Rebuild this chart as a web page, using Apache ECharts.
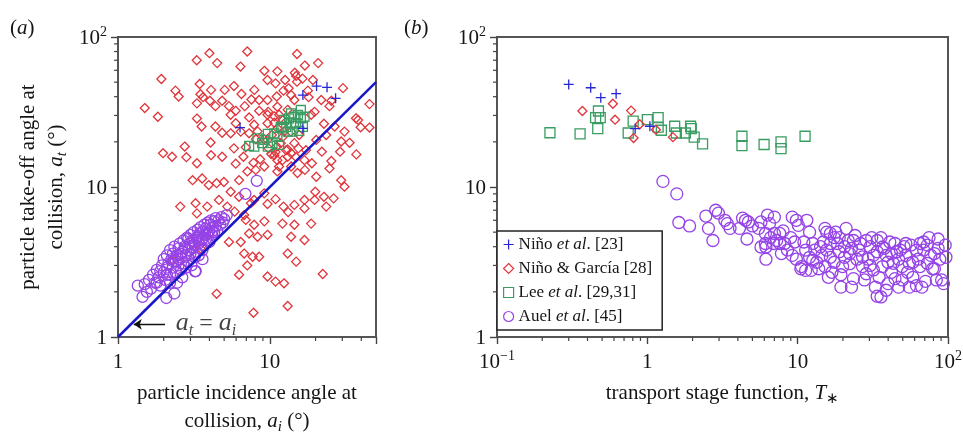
<!DOCTYPE html>
<html>
<head>
<meta charset="utf-8">
<script src="https://cdn.jsdelivr.net/npm/echarts@6.0.0/dist/echarts.min.js"></script>
<style>
  html, body { margin: 0; padding: 0; background: #ffffff; }
  #chart { width: 963px; height: 436px; }
</style>
</head>
<body>
<div id="chart"></div>
<script>
// ---- Panel (a): take-off angle vs incidence angle, both in degrees ----
const aNinoGarcia = [
  [4.0,78],[7.1,80],[3.3,70],[4.5,67],[6.4,63.5],[15.1,77],[9.2,59.5],[11.2,59],[17.0,64.5],[20.8,67],
  [1.93,52.5],[2.39,43.9],[2.51,40.1],[3.45,48.6],[4.1,44.4],[3.49,41.5],[3.63,39.7],[5.8,47.1],[5.04,44.4],[6.5,41.7],
  [7.9,44.4],[9.65,51.7],[10.9,49.1],[12.6,51.7],[14.6,57.8],[14.9,55],[15.1,50.4],[16.4,52.8],[19.2,51.7],[12.3,43.9],
  [11.1,40.1],[13.3,45.5],[13.8,41],[9.65,38],[1.5,33.6],[1.83,29.4],[3.31,36.1],[4.03,37.6],[4.38,34.6],[4.85,37.6],
  [5.38,34.6],[5.96,32.2],[6.83,34.6],[7.56,38.3],[8.5,38],[8.5,32.2],[9.75,31.7],[11.2,34.3],[13.1,32.7],[14.5,38],
  [17.8,43.9],[18.0,39.7],[21.8,38],[25.4,37.6],[30.3,45.6],[45.3,35.7],[36.9,28.7],[38.1,28],[39.6,25],[45.3,24.9],
  [24.7,34.6],[19.7,31.7],[3.31,28.6],[3.55,25.3],[4.38,25.3],[5.52,30.3],[5.96,26.6],[6.43,23.4],[7.3,29.1],[7.88,26],
  [7.3,22.8],[8.3,23.5],[9.65,30.3],[9.65,26.6],[10.7,26.8],[10.3,22.2],[12.1,21.5],[13.8,23.4],[15.6,22.2],[18.7,30.3],
  [22.7,26.4],[26.7,25.3],[31.0,23.4],[2.75,18.6],[4.07,19.8],[4.85,23],[5.52,22.8],[5.8,18.1],[6.94,18.4],[8.1,20.8],
  [9.15,20.8],[9.8,18.1],[11.1,18.6],[13.1,17.8],[15.4,18.1],[17.3,17.6],[20.2,20.6],[23.5,22.2],[29.5,20.1],[33.5,19.7],
  [1.98,16.8],[2.27,15.9],[2.82,15.8],[3.31,14.4],[4.1,16.3],[4.85,15.9],[5.96,14.3],[6.7,15.9],[7.8,14.5],[8.63,15.3],
  [10.2,16.6],[11.2,15.1],[13.1,15.9],[14.9,15.8],[16.9,15.1],[18.9,14.4],[22.0,17.2],[25.4,14.9],[29.0,17.2],[37.1,16.5],
  [3.1,11.1],[3.58,11.4],[3.96,10.3],[4.46,10.6],[4.98,10.8],[6.27,11.1],[7.11,12.7],[8.07,13],[9.18,13.7],[11.2,12.7],
  [13.8,13.7],[15.2,12.4],[17.0,13],[20.2,11.7],[24.7,13.3],[29.5,11.1],[4.62,8.2],[5.52,9.3],[6.27,8.6],[7.88,8.2],
  [9.18,9.07],[9.65,7.7],[10.9,8.3],[12.3,7.4],[13.2,6.8],[14.5,7.6],[16.9,8.2],[19.9,9.3],[22.7,8.6],[26.3,8.4],
  [31.0,10.05],[2.57,7.4],[3.24,7.8],[3.87,7.4],[5.24,7.4],[5.86,6.85],[6.77,6.5],[7.5,7.8],[16.9,7.2],[19.7,8.2],[23.5,7.4],
  [10.7,29.6],[11.5,30.3],[12.1,28],[12.8,27.3],[11.2,24.6],[12.4,23.4],[11.8,19.6],[12.8,17.6],[10.7,16.3],[12.1,15.1],
  [11.5,13.7],[9.65,20.6],[14.5,19.6],[13.8,16.8],[10.9,17.1],
  [3.31,6.67],[6.94,6.03],[7.88,5.6],[9.2,5.9],[12.1,5.7],[14.5,5.6],[18.7,5.7],[5.38,4.3],[6.43,4.3],[7.3,4.9],
  [8.3,4.66],[9.65,4.8],[13.8,4.66],[16.9,4.43],[6.77,3.6],[7.7,3.43],[8.5,3.43],[7.1,3.0],[9.65,2.53],[10.9,2.34],
  [12.4,2.28],[14.9,3.18],[13.1,3.6],[6.27,2.6],[22.3,2.63],[4.46,1.94],[13.1,1.61],[7.8,1.45],[3.08,4.2],[2.27,3.26],[3.49,3.9]
];
const aAuel = [
  [1.35,2.2],[1.45,1.85],[1.5,2.25],[1.6,2.4],[1.65,2.1],[1.7,2.6],[1.75,2.3],[1.8,2.8],[1.85,2.5],[1.9,2.2],
  [1.95,3.0],[2.0,2.7],[2.0,3.3],[2.05,2.4],[2.1,2.9],[2.1,3.5],[2.15,3.1],[2.2,2.6],[2.2,3.8],[2.25,3.3],
  [2.3,2.9],[2.3,3.6],[2.35,1.95],[2.35,4.0],[2.4,3.2],[2.4,2.7],[2.45,3.5],[2.5,3.9],[2.5,3.0],[2.55,4.2],
  [2.6,3.4],[2.6,2.8],[2.65,3.7],[2.7,4.4],[2.7,3.1],[2.75,4.0],[2.8,3.5],[2.8,2.9],[2.85,4.6],[2.9,3.8],
  [2.9,3.2],[2.95,4.2],[3.0,4.8],[3.0,3.6],[3.05,3.0],[3.1,4.4],[3.1,3.9],[3.15,5.0],[3.2,3.4],[3.2,4.1],
  [3.25,2.75],[3.3,4.6],[3.3,3.7],[3.35,5.2],[3.4,4.2],[3.4,3.5],[3.45,4.9],[3.5,3.9],[3.5,5.4],[3.55,4.4],
  [3.6,3.8],[3.6,5.0],[3.65,4.6],[3.7,5.6],[3.7,4.1],[3.75,4.8],[3.8,5.3],[3.85,4.4],[3.9,5.8],[3.9,4.9],
  [4.0,5.1],[4.0,4.3],[4.05,5.6],[4.1,6.0],[4.15,4.8],[4.2,5.4],[4.3,5.9],[4.3,5.0],[4.4,6.2],[4.4,5.5],
  [4.5,5.1],[4.6,6.0],[4.7,5.6],[4.8,6.3],[4.9,5.8],[5.0,6.1],[5.2,6.5],[2.2,2.3],[1.55,2.0],[1.9,2.75],
  [2.45,2.3],[2.65,2.5],[3.6,3.3],[6.9,9.0],[8.2,11.0],[3.0,4.2],[2.6,3.6],[2.3,3.2],[2.1,2.6],[1.8,2.3],
  [3.8,4.5],[4.2,5.1],[3.4,4.7],[2.9,4.5],[2.5,3.3],[2.75,3.9],[2.08,1.82],[3.22,2.74]
];
const aLee = [
  [7.3,18.8],[8.3,21.1],[9.2,20.6],[9.7,22.6],[10.4,19.6],[11.2,21.6],[12.1,24.6],[12.8,25.2],[13.8,26.6],[14.5,29.4],
  [15.3,30.2],[16.0,28.7],[16.5,25.2],[13.1,23.4],[14.1,23.4],[11.8,25.2],[10.7,22.8],[11.5,19.1],[12.4,28.0],[14.9,26.6],
  [15.6,23.7],[16.9,29.4],[13.4,28.7],[9.7,18.6],[8.9,19.6],[7.9,18.6],[16.0,32.6],[13.8,31.0]
];
const aNino = [[6.36,24.9],[16.5,41.0],[20.3,47.1],[23.8,46.2],[27.1,39.0],[16.5,24.6]];
const equalityLine = [[1, 1], [50, 50]];

// ---- Panel (b): take-off angle vs transport stage function ----
const bNinoGarcia = [[0.37,32.1],[0.59,35.9],[0.61,28.1],[0.78,32.3],[0.89,26.2],[0.81,21.2],[1.14,24.1],[1.48,21.5]];
const bNino = [[0.30,48.3],[0.42,45.9],[0.49,39.4],[0.62,41.9],[0.83,24.5],[1.04,25.4]];
const bLee = [
  [0.225,23.0],[0.357,22.6],[0.468,24.5],[0.453,29.0],[0.473,32.1],[0.486,29.0],[0.746,22.9],[0.805,27.5],[1.0,28.1],
  [1.18,29.0],[1.18,25.1],[1.24,23.9],[1.52,25.4],[1.56,22.9],[1.79,22.9],[1.94,25.4],[1.96,24.5],[2.05,21.5],[2.33,19.4],
  [4.26,21.8],[4.26,18.9],[5.98,19.2],[7.75,20.0],[7.75,18.0],[11.2,21.8]
];
const bAuel = [
  [1.27,10.9],[1.57,9.0],
  [1.62,5.8],[1.91,5.5],[2.45,6.4],[2.85,7.0],[2.97,6.7],[2.55,5.3],[2.73,4.4],[3.28,6.0],[3.4,5.7],[3.55,5.3],
  [4.1,5.3],[4.3,6.2],[4.5,6.0],[4.7,5.85],[4.6,4.5],[5.0,5.5],[5.5,5.3],[5.7,5.85],[6.3,6.5],[7.0,6.3],
  [6.5,5.7],[6.1,4.9],[6.1,4.2],[6.15,3.3],[6.6,4.6],[7.0,4.9],[7.6,4.9],[8.0,5.1],[8.2,4.2],[8.55,3.8],
  [9.0,4.6],[9.2,6.3],[9.8,6.0],[10.1,5.55],[9.55,4.3],[9.8,3.3],[10.5,2.85],[11.0,4.3],[11.3,2.78],[11.5,6.0],
  [12.0,5.0],[12.6,4.2],[13.0,3.8],[13.4,3.15],[13.8,2.85],[14.2,4.0],[14.8,4.3],[15.2,5.3],[15.6,3.8],[16.5,4.9],
  [16.5,3.4],[16.9,2.7],[17.5,3.15],[17.9,5.0],[18.4,4.2],[18.9,3.7],[19.4,2.6],[19.9,2.95],[21.0,5.3],[21.7,4.4],
  [22.2,3.6],[22.8,3.9],[23.5,2.45],[24.1,4.75],[25.6,3.8],[26.2,4.2],[27.0,2.95],[27.8,2.4],[28.6,4.4],[29.4,3.3],
  [30.3,4.0],[31.1,4.6],[31.9,2.8],[32.9,2.15],[33.8,3.7],[34.8,2.5],[35.8,4.6],[36.7,2.95],[37.7,3.9],[38.8,3.5],
  [39.9,2.27],[41.0,4.3],[42.1,2.7],[43.3,3.1],[44.4,2.45],[45.7,3.7],[46.9,2.15],[48.2,3.8],[49.6,2.95],[51.0,4.0],
  [52.4,3.5],[53.8,2.7],[55.3,2.15],[56.8,4.1],[58.4,3.15],[61.7,2.2],[63.4,3.3],[65.2,4.2],[68.9,3.8],[70.8,2.35],
  [72.8,3.1],[74.8,4.6],[76.9,3.5],[79.0,2.85],[81.2,3.6],[83.6,2.4],[85.9,4.5],[88.2,3.3],[90.7,2.4],[93.3,2.27],
  [95.8,4.1],[96.9,3.4],[35.8,1.85],[33.8,1.87],[38.8,2.05],[19.4,2.15],[22.8,2.15],[16.0,2.5],[12.3,2.78],
  [5.7,3.98],[6.15,3.98],[7.25,4.4],[7.6,4.2],[6.9,4.2],[7.8,3.6],[9.2,3.5],[10.6,2.95],[11.3,3.8],[12.0,3.4],
  [12.6,3.24],[14.5,3.5],[15.2,2.95],[15.6,5.0],[16.5,4.2],[17.5,4.6],[18.9,4.6],[20.5,4.0],[20.5,3.4],[22.2,3.08],
  [23.5,4.4],[24.8,3.3],[27.0,3.42],[28.6,2.64],[30.3,3.0],[31.9,3.5],[33.8,4.4],[36.7,3.98],[39.9,3.15],[42.1,3.6],
  [44.4,4.2],[46.9,3.3],[49.6,2.4],[52.4,4.2],[55.3,3.1],[58.4,2.5],[61.7,3.8],[65.2,2.95],[67.0,2.15],[72.8,4.1],
  [81.2,2.85],[85.9,3.9],[68.9,4.3]
];

// ---- Axis ticks ----
const aXMajor = [1, 10];
const aXMinor = [2, 3, 4, 5, 6, 7, 8, 9, 20, 30, 40];
const angleMajor = [1, 10, 100];
const angleMinor = [2, 3, 4, 5, 6, 7, 8, 9, 20, 30, 40, 50, 60, 70, 80, 90];
const bXMajor = [0.1, 1, 10, 100];
const bXMinor = [0.2, 0.3, 0.4, 0.5, 0.6, 0.7, 0.8, 0.9, 2, 3, 4, 5, 6, 7, 8, 9, 20, 30, 40, 50, 60, 70, 80, 90];

const NAMES = {
  nino: 'Niño et al. [23]',
  garcia: 'Niño & García [28]',
  lee: 'Lee et al. [29,31]',
  auel: 'Auel et al. [45]'
};
const legendRich = {};
legendRich[NAMES.nino] = '{n|Niño }{i|et al}{n|. [23]}';
legendRich[NAMES.garcia] = '{n|Niño & García [28]}';
legendRich[NAMES.lee] = '{n|Lee }{i|et al}{n|. [29,31]}';
legendRich[NAMES.auel] = '{n|Auel }{i|et al}{n|. [45]}';

const SERIF = '"Liberation Serif", "Times New Roman", serif';
const INK = '#151515';
const FRAME = '#555555';
const TICK = '#444444';
const BLUE = '#2626d4';
const RED = '#e0353b';
const GREEN = '#3a9d62';
const PURPLE = '#9543e6';
const LINE_BLUE = '#1818c8';
const HOLLOW = 'rgba(0,0,0,0)';
const CROSS = 'path://M0,5L10,5M5,0L5,10';

function txt(size, extra) {
  return Object.assign({ fontFamily: SERIF, fontSize: size, color: INK, fill: INK }, extra || {});
}

const tickRich = {
  b: txt(21, { lineHeight: 24, verticalAlign: 'bottom' }),
  p: txt(14, { lineHeight: 14, verticalAlign: 'top' })
};
const nameRich = {
  n: txt(21, { lineHeight: 28 }),
  i: txt(21, { lineHeight: 28, fontStyle: 'italic' }),
  s: txt(15, { lineHeight: 15, fontStyle: 'italic', verticalAlign: 'bottom' }),
  r: txt(15, { lineHeight: 15, verticalAlign: 'bottom' })
};

function powLabel(v) {
  const e = Math.round(Math.log10(v));
  if (e === 0) return '{b|1}';
  if (e === 1) return '{b|10}';
  return '{b|10}{p|' + (e < 0 ? '\u2212' + (-e) : e) + '}';
}

function mainAxis(grid, pos, min, max, majors, name, nameGap, rotate, margin) {
  return {
    type: 'log', logBase: 10, gridIndex: grid, position: pos, min: min, max: max,
    axisLine: { show: true, onZero: false, lineStyle: { color: FRAME, width: 2 } },
    axisTick: { show: true, inside: false, length: 7, lineStyle: { color: TICK, width: 1.4 } },
    minorTick: { show: false },
    axisLabel: {
      show: true, customValues: majors, formatter: powLabel, margin: margin,
      fontFamily: SERIF, fontSize: 21, color: INK, rich: tickRich,
      hideOverlap: false, showMinLabel: true, showMaxLabel: true
    },
    splitLine: { show: false },
    name: name, nameLocation: 'middle', nameGap: nameGap, nameRotate: rotate,
    nameMoveOverlap: false,
    nameTextStyle: { fontFamily: SERIF, fontSize: 21, color: INK, lineHeight: 28, rich: nameRich }
  };
}

function hollow(name, data, symbol, size, color, idx, z) {
  return {
    name: name, type: 'scatter', xAxisIndex: idx, yAxisIndex: idx, data: data,
    symbol: symbol, symbolSize: size, z: z, silent: true,
    itemStyle: { color: HOLLOW, borderColor: color, borderWidth: 1.3, opacity: 1 }
  };
}

const option = {
  animation: false,
  grid: [
    { left: 118, top: 37, width: 258, height: 300, show: true, borderColor: FRAME, borderWidth: 2, outerBoundsMode: 'none' },
    { left: 497, top: 37, width: 451, height: 300, show: true, borderColor: FRAME, borderWidth: 2, outerBoundsMode: 'none' }
  ],
  xAxis: [
    mainAxis(0, 'bottom', 1, 50, aXMajor,
      '{n|particle incidence angle at}\n{n|collision, }{i|a}{s|i}{n| (°)}', 42, 0, 12),
    mainAxis(1, 'bottom', 0.1, 100, bXMajor,
      '{n|transport stage function, }{i|T}{r|\u2217}', 42, 0, 12)
  ],
  yAxis: [
    mainAxis(0, 'left', 1, 100, angleMajor,
      '{n|particle take-off angle at}\n{n|collision, }{i|a}{s|t}{n| (°)}', 48, 90, 11),
    mainAxis(1, 'left', 1, 100, angleMajor, '', 40, 90, 11)
  ],
  legend: {
    data: [NAMES.nino, NAMES.garcia, NAMES.lee, NAMES.auel],
    orient: 'vertical', left: 497, top: 231,
    backgroundColor: '#ffffff', borderColor: '#222222', borderWidth: 1.5, borderRadius: 0,
    padding: [5, 10, 5, 6], itemGap: 7, itemWidth: 10, itemHeight: 10, itemTextGap: 9,
    selectedMode: false,
    itemStyle: { borderWidth: 1.2 },
    formatter: function (name) { return legendRich[name]; },
    textStyle: {
      fontFamily: SERIF, fontSize: 17, color: INK,
      rich: {
        n: txt(17, { lineHeight: 19 }),
        i: txt(17, { lineHeight: 19, fontStyle: 'italic' })
      }
    },
    z: 10
  },
  series: [
    // panel (a)
    hollow(NAMES.garcia, aNinoGarcia, 'diamond', 9, RED, 0, 2),
    hollow(NAMES.auel, aAuel, 'circle', 11, PURPLE, 0, 3),
    hollow(NAMES.lee, aLee, 'rect', 9, GREEN, 0, 4),
    hollow(NAMES.nino, aNino, CROSS, 10, BLUE, 0, 5),
    {
      name: 'equality', type: 'line', xAxisIndex: 0, yAxisIndex: 0, data: equalityLine,
      showSymbol: false, symbol: 'none', silent: true, z: 6,
      lineStyle: { color: LINE_BLUE, width: 2.5 },
      markLine: {
        silent: true, symbol: ['none', 'arrow'], symbolSize: 8,
        lineStyle: { color: '#111111', width: 1.3, type: 'solid' },
        label: { show: false },
        data: [[{ coord: [2.04, 1.215] }, { coord: [1.27, 1.215] }]]
      }
    },
    {
      name: 'equalityLabel', type: 'scatter', xAxisIndex: 0, yAxisIndex: 0,
      data: [[2.38, 1.23]], symbolSize: 1, silent: true, z: 7,
      itemStyle: { color: HOLLOW },
      label: {
        show: true, position: 'right', distance: 0,
        formatter: '{i|a}{s|t}{e| = }{i|a}{s|i}',
        rich: {
          i: txt(26, { fontStyle: 'italic', lineHeight: 30 }),
          e: txt(24, { lineHeight: 30 }),
          s: txt(16, { fontStyle: 'italic', lineHeight: 16, verticalAlign: 'bottom' })
        }
      }
    },
    // panel (b)
    hollow(NAMES.lee, bLee, 'rect', 10, GREEN, 1, 2),
    hollow(NAMES.auel, bAuel, 'circle', 12, PURPLE, 1, 3),
    hollow(NAMES.garcia, bNinoGarcia, 'diamond', 9, RED, 1, 4),
    hollow(NAMES.nino, bNino, CROSS, 10, BLUE, 1, 5)
  ]
};

const chart = echarts.init(document.getElementById('chart'), null, { renderer: 'canvas' });
chart.setOption(option);

// Short outward sub-decade ticks, placed through each grid's log scales, followed by the panel tags.
const overlay = [];
function addMinorTicks(gridIndex, values, dir, anchor) {
  values.forEach(function (v) {
    const p = chart.convertToPixel({ gridIndex: gridIndex }, dir === 'x' ? [v, anchor] : [anchor, v]);
    const shape = dir === 'x'
      ? { x1: p[0], y1: p[1], x2: p[0], y2: p[1] + 4 }
      : { x1: p[0], y1: p[1], x2: p[0] - 4, y2: p[1] };
    overlay.push({ type: 'line', z: 100, shape: shape, style: { stroke: TICK, lineWidth: 1.2 } });
  });
}
addMinorTicks(0, aXMinor, 'x', 1);
addMinorTicks(0, angleMinor, 'y', 1);
addMinorTicks(1, bXMinor, 'x', 1);
addMinorTicks(1, angleMinor, 'y', 0.1);
overlay.push(
  { type: 'text', left: 10, top: 18, silent: true,
    style: { text: '{n|(}{i|a}{n|)}', rich: { n: txt(21), i: txt(21, { fontStyle: 'italic' }) } } },
  { type: 'text', left: 404, top: 18, silent: true,
    style: { text: '{n|(}{i|b}{n|)}', rich: { n: txt(21), i: txt(21, { fontStyle: 'italic' }) } } }
);
chart.setOption({ graphic: overlay });
</script>
</body>
</html>
